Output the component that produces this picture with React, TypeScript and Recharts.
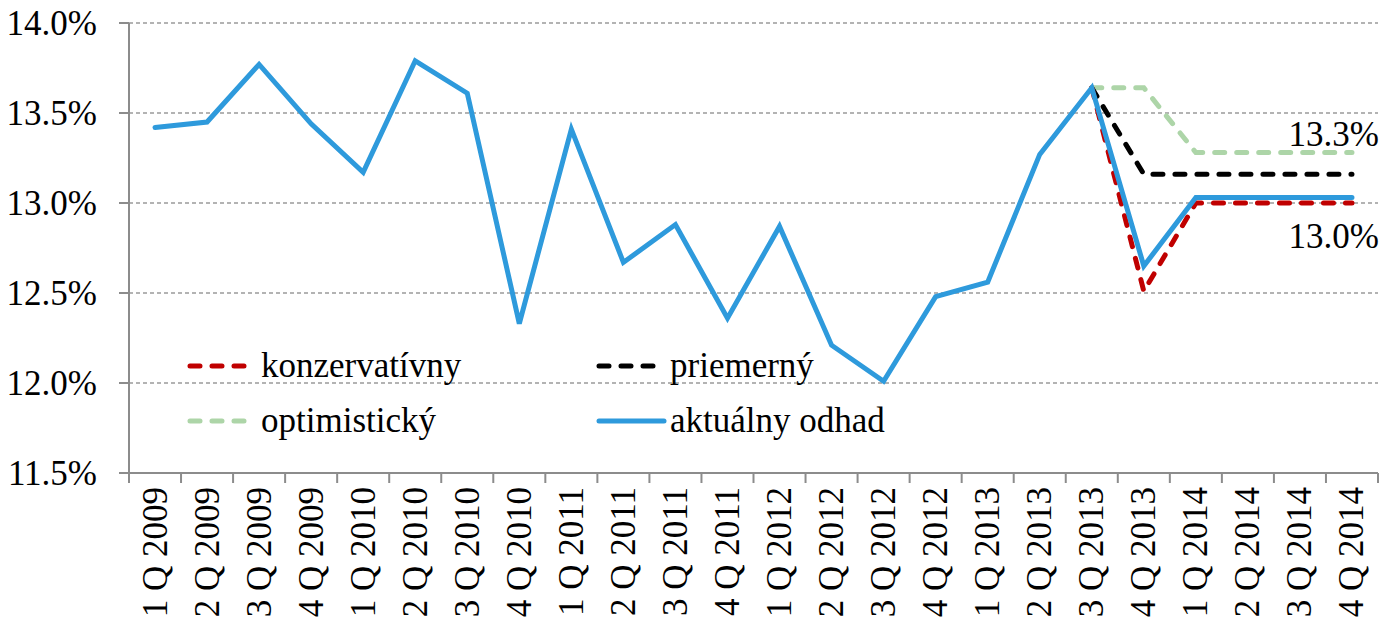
import React from 'react';
import { ComposedChart, Line, XAxis, YAxis, CartesianGrid, LabelList } from 'recharts';

const quarters = [
  '1 Q 2009', '2 Q 2009', '3 Q 2009', '4 Q 2009',
  '1 Q 2010', '2 Q 2010', '3 Q 2010', '4 Q 2010',
  '1 Q 2011', '2 Q 2011', '3 Q 2011', '4 Q 2011',
  '1 Q 2012', '2 Q 2012', '3 Q 2012', '4 Q 2012',
  '1 Q 2013', '2 Q 2013', '3 Q 2013', '4 Q 2013',
  '1 Q 2014', '2 Q 2014', '3 Q 2014', '4 Q 2014',
];

const actual = [13.42, 13.45, 13.77, 13.44, 13.17, 13.79, 13.61, 12.33, 13.41, 12.67, 12.88, 12.36,
  12.87, 12.21, 12.01, 12.48, 12.56, 13.27, 13.64, 12.65, 13.03, 13.03, 13.03, 13.03];
const N = null;
const conservative = [N, N, N, N, N, N, N, N, N, N, N, N, N, N, N, N, N, N, 13.64, 12.51, 13.0, 13.0, 13.0, 13.0];
const average = [N, N, N, N, N, N, N, N, N, N, N, N, N, N, N, N, N, N, 13.64, 13.16, 13.16, 13.16, 13.16, 13.16];
const optimistic = [N, N, N, N, N, N, N, N, N, N, N, N, N, N, N, N, N, N, 13.64, 13.64, 13.28, 13.28, 13.28, 13.28];

const yTicks = [11.5, 12.0, 12.5, 13.0, 13.5, 14.0];

const seriesNames = {
  conservative: 'konzervatívny',
  average: 'priemerný',
  optimistic: 'optimistický',
  actual: 'aktuálny odhad',
};

const COLORS = {
  conservative: '#C00000',
  average: '#000000',
  optimistic: '#ADD5A8',
  actual: '#2E9ADC',
};

const data = quarters.map((q, i) => ({
  q,
  pos: i + 0.5,
  actual: actual[i],
  conservative: conservative[i],
  average: average[i],
  optimistic: optimistic[i],
}));

const boundaries = quarters.map((_, i) => i).concat(quarters.length);

const FONT = '"Liberation Serif", serif';
const FS = 35;
const GREY = '#8C8C8C';

const BoundaryTick = (props: any) => {
  const { x, y } = props;
  return <line x1={x} x2={x} y1={y} y2={y + 10} stroke={GREY} strokeWidth={2} />;
};

const QuarterTick = (props: any) => {
  const { x, y, payload } = props;
  return (
    <text
      x={x}
      y={y}
      transform={`rotate(-90 ${x} ${y})`}
      textAnchor="end"
      dominantBaseline="central"
      style={{ fontFamily: FONT }}
      fontSize={FS}
      fill="#000"
    >
      {payload.value}
    </text>
  );
};

const makeEndLabel = (dy: number, values: (number | null)[]) => (props: any) => {
  const { x, y, index } = props;
  if (index !== values.length - 1) return null;
  return (
    <text x={x + 27} y={y + dy} textAnchor="end" dominantBaseline="central" style={{ fontFamily: FONT }} fontSize={FS} fill="#000">
      {(values[index] as number).toFixed(1)}%
    </text>
  );
};

const LegendItem = ({ color, dashed, label }: { color: string; dashed: boolean; label: string }) => (
  <div style={{ display: 'flex', alignItems: 'center', height: 55 }}>
    <svg width={76} height={12} style={{ display: 'block' }}>
      <line
        x1={5}
        y1={6}
        x2={dashed ? 62 : 70}
        y2={6}
        stroke={color}
        strokeWidth={5}
        strokeLinecap="round"
        strokeDasharray={dashed ? '10 12' : undefined}
      />
    </svg>
    <span style={{ fontFamily: FONT, fontSize: FS, color: '#000', lineHeight: '40px', whiteSpace: 'nowrap' }}>{label}</span>
  </div>
);

export default function App() {
  return (
    <div style={{ position: 'absolute', left: 0, top: 0, width: 1384, height: 617, background: '#fff', fontFamily: FONT }}>
      <ComposedChart width={1384} height={617} data={data} margin={{ top: 23, right: 6, bottom: 0, left: 0 }}>
        <CartesianGrid horizontal vertical={false} stroke="#9A9A9A" strokeWidth={1.5} strokeDasharray="4 3" />
        <XAxis
          xAxisId="a"
          dataKey="pos"
          type="number"
          domain={[0, quarters.length]}
          ticks={boundaries}
          height={1}
          tickSize={0}
          tickMargin={0}
          axisLine={{ stroke: GREY, strokeWidth: 2 }}
          tickLine={false}
          tick={<BoundaryTick />}
          interval={0}
        />
        <XAxis
          xAxisId="b"
          dataKey="q"
          type="category"
          scale="band"
          height={143}
          axisLine={false}
          tickLine={false}
          tickSize={0}
          tickMargin={13}
          interval={0}
          tick={<QuarterTick />}
        />
        <YAxis
          type="number"
          domain={[11.5, 14]}
          ticks={yTicks}
          width={129}
          tickSize={10}
          tickMargin={22}
          axisLine={{ stroke: GREY, strokeWidth: 2 }}
          tickLine={{ stroke: GREY, strokeWidth: 2 }}
          tickFormatter={(v: number) => `${v.toFixed(1)}%`}
          tick={{ fontFamily: FONT, fontSize: FS, fill: '#000' }}
          allowDataOverflow
        />
        <Line
          xAxisId="b"
          dataKey="optimistic"
          name={seriesNames.optimistic}
          stroke={COLORS.optimistic}
          strokeWidth={5}
          strokeDasharray="10 12"
          strokeLinecap="round"
          dot={false}
          activeDot={false}
          isAnimationActive={false}
        >
          <LabelList dataKey="optimistic" content={makeEndLabel(-18, optimistic)} />
        </Line>
        <Line
          xAxisId="b"
          dataKey="average"
          name={seriesNames.average}
          stroke={COLORS.average}
          strokeWidth={5}
          strokeDasharray="10 12"
          strokeLinecap="round"
          dot={false}
          activeDot={false}
          isAnimationActive={false}
        />
        <Line
          xAxisId="b"
          dataKey="conservative"
          name={seriesNames.conservative}
          stroke={COLORS.conservative}
          strokeWidth={5}
          strokeDasharray="10 12"
          strokeLinecap="round"
          dot={false}
          activeDot={false}
          isAnimationActive={false}
        >
          <LabelList dataKey="conservative" content={makeEndLabel(33, conservative)} />
        </Line>
        <Line
          xAxisId="b"
          dataKey="actual"
          name={seriesNames.actual}
          stroke={COLORS.actual}
          strokeWidth={5}
          strokeLinecap="round"
          dot={false}
          activeDot={false}
          isAnimationActive={false}
        />
      </ComposedChart>
      <div
        style={{
          position: 'absolute',
          left: 185,
          top: 338,
          display: 'grid',
          gridTemplateColumns: '409px 320px',
        }}
      >
        <LegendItem color={COLORS.conservative} dashed label={seriesNames.conservative} />
        <LegendItem color={COLORS.average} dashed label={seriesNames.average} />
        <LegendItem color={COLORS.optimistic} dashed label={seriesNames.optimistic} />
        <LegendItem color={COLORS.actual} dashed={false} label={seriesNames.actual} />
      </div>
    </div>
  );
}
